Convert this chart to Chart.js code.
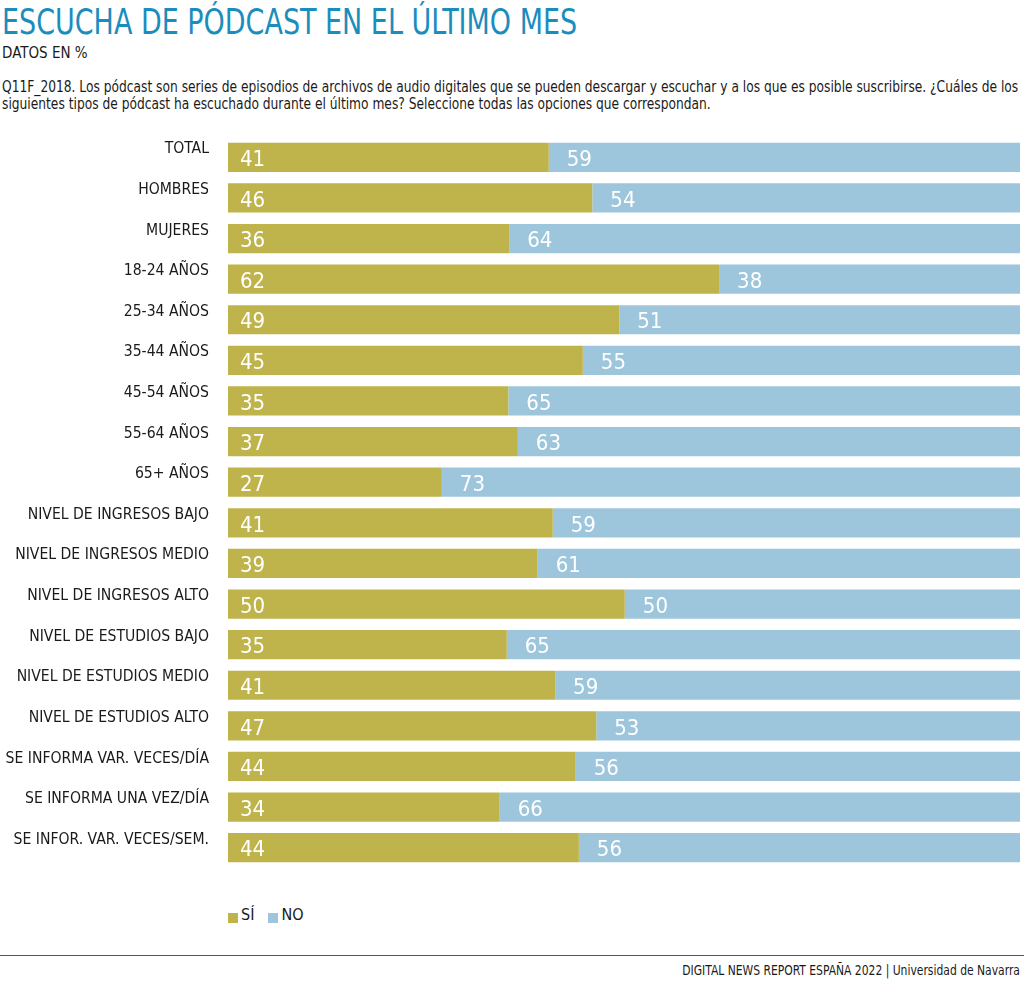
<!DOCTYPE html>
<html>
<head>
<meta charset="utf-8">
<script src="https://cdn.jsdelivr.net/npm/chart.js@4"></script>
<style>
  body { margin: 0; width: 1024px; height: 984px; background: #fff; font-family: "Liberation Sans Narrow", "DejaVu Sans Condensed", sans-serif; color: #1a1a1a; position: relative; overflow: hidden; }
  #title { position: absolute; left: 2px; top: 1px; font-size: 36px; color: #1b8dbd; white-space: nowrap; transform: scaleX(0.833); transform-origin: left top; }
  #sub { position: absolute; left: 2px; top: 44px; font-size: 15px; }
  #question { position: absolute; left: 2px; top: 79px; font-size: 15px; line-height: 17px; white-space: nowrap; transform: scaleX(0.908); transform-origin: left top; }
  #chartBox { position: absolute; left: 0; top: 130px; width: 1024px; height: 744px; }
  #legend { position: absolute; left: 228px; top: 905px; font-size: 16px; display: flex; align-items: center; }
  #legend span.sw { display: inline-block; width: 10px; height: 10px; margin-right: 3px; margin-top: 6px; }
  #legend span.lb { margin-right: 14px; }
  #rule { position: absolute; left: 0; top: 955px; width: 1024px; height: 1px; background: #555; }
  #footer { position: absolute; right: 4px; top: 962px; font-size: 14px; white-space: nowrap; transform: scaleX(0.855); transform-origin: right top; }
</style>
</head>
<body>
<div id="title">ESCUCHA DE PÓDCAST EN EL ÚLTIMO MES</div>
<div id="sub">DATOS EN %</div>
<div id="question">Q11F_2018. Los pódcast son series de episodios de archivos de audio digitales que se pueden descargar y escuchar y a los que es posible suscribirse. ¿Cuáles de los<br>siguientes tipos de pódcast ha escuchado durante el último mes? Seleccione todas las opciones que correspondan.</div>
<div id="chartBox"><canvas id="podcastChart"></canvas></div>
<div id="legend">
  <span class="sw" style="background:#bfb34b"></span><span class="lb">SÍ</span>
  <span class="sw" style="background:#9dc6dd"></span><span class="lb">NO</span>
</div>
<div id="rule"></div>
<div id="footer">DIGITAL NEWS REPORT ESPAÑA 2022 | Universidad de Navarra</div>
<script>
  const categories = ["TOTAL", "HOMBRES", "MUJERES", "18-24 AÑOS", "25-34 AÑOS", "35-44 AÑOS", "45-54 AÑOS", "55-64 AÑOS", "65+ AÑOS",
    "NIVEL DE INGRESOS BAJO", "NIVEL DE INGRESOS MEDIO", "NIVEL DE INGRESOS ALTO",
    "NIVEL DE ESTUDIOS BAJO", "NIVEL DE ESTUDIOS MEDIO", "NIVEL DE ESTUDIOS ALTO",
    "SE INFORMA VAR. VECES/DÍA", "SE INFORMA UNA VEZ/DÍA", "SE INFOR. VAR. VECES/SEM."];

  // bar lengths and the printed labels
  const siValues = [40.5, 46.0, 35.5, 62.0, 49.4, 44.8, 35.4, 36.6, 27.0, 41.0, 39.1, 50.1, 35.2, 41.3, 46.5, 43.9, 34.3, 44.3];
  const noValues = [59.5, 54.0, 64.5, 38.0, 50.6, 55.2, 64.6, 63.4, 73.0, 59.0, 60.9, 49.9, 64.8, 58.7, 53.5, 56.1, 65.7, 55.7];
  const siLabels = [41, 46, 36, 62, 49, 45, 35, 37, 27, 41, 39, 50, 35, 41, 47, 44, 34, 44];
  const noLabels = [59, 54, 64, 38, 51, 55, 65, 63, 73, 59, 61, 50, 65, 59, 53, 56, 66, 56];

  const fontFam = '"Liberation Sans Narrow", "DejaVu Sans Condensed", sans-serif';

  // category names, drawn a bit above each bar
  const catLabels = {
    id: 'catLabels',
    afterDraw(chart) {
      const c = chart.ctx, y = chart.scales.y;
      c.save();
      c.font = '15.6px ' + fontFam;
      c.fillStyle = '#1a1a1a';
      c.textAlign = 'right';
      c.textBaseline = 'middle';
      categories.forEach((name, i) => {
        c.fillText(name, 209, y.getPixelForValue(i) - 8);
      });
      c.restore();
    }
  };

  // white numbers inside the bars
  const barValues = {
    id: 'barValues',
    afterDatasetsDraw(chart) {
      const c = chart.ctx;
      c.save();
      c.font = '22px ' + fontFam;
      c.fillStyle = '#ffffff';
      c.textAlign = 'left';
      c.textBaseline = 'middle';
      chart.data.datasets.forEach((ds, di) => {
        const meta = chart.getDatasetMeta(di);
        meta.data.forEach((bar, i) => {
          const x0 = Math.min(bar.x, bar.base);
          const txt = di === 0 ? siLabels[i] : noLabels[i];
          c.fillText(txt, x0 + (di === 0 ? 12 : 18), bar.y + 3);
        });
      });
      c.restore();
    }
  };

  const ctx = document.getElementById('podcastChart').getContext('2d');
  new Chart(ctx, {
    type: 'bar',
    data: {
      labels: categories,
      datasets: [
        { label: 'SÍ', data: siValues, backgroundColor: '#bfb34b', borderWidth: 0, categoryPercentage: 0.72, barPercentage: 1 },
        { label: 'NO', data: noValues, backgroundColor: '#9dc6dd', borderWidth: 0, categoryPercentage: 0.72, barPercentage: 1 }
      ]
    },
    options: {
      indexAxis: 'y',
      responsive: true,
      maintainAspectRatio: false,
      animation: false,
      layout: { padding: { left: 228, right: 4, top: 7, bottom: 6 } },
      plugins: { legend: { display: false }, tooltip: { enabled: false } },
      scales: {
        x: { stacked: true, min: 0, max: 100, display: false },
        y: { stacked: true, display: false }
      }
    },
    plugins: [catLabels, barValues]
  });
</script>
</body>
</html>
